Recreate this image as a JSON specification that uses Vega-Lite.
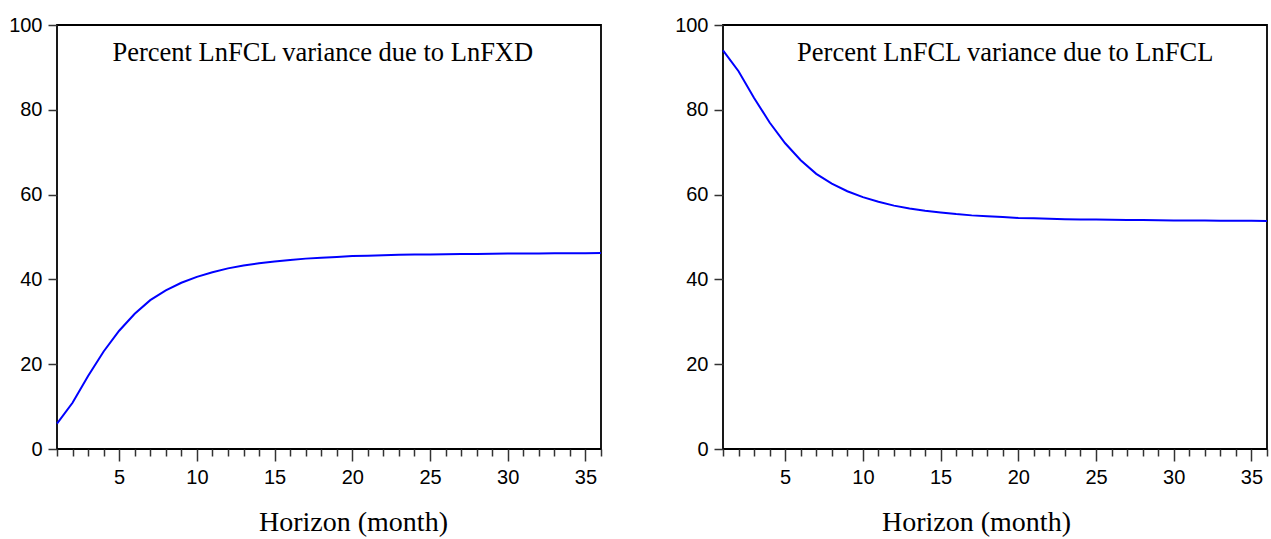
{
  "$schema": "https://vega.github.io/schema/vega-lite/v6.json",
  "padding": {"left": 7, "top": 14, "right": 0, "bottom": 0},
  "background": "white",
  "spacing": 67,
  "config": {
    "view": {"stroke": "#000", "strokeWidth": 1.8},
    "axis": {
      "labelFont": "Liberation Sans",
      "labelFontSize": 20,
      "labelColor": "#000",
      "tickColor": "#333",
      "tickWidth": 1.5,
      "domain": false,
      "grid": false,
      "titleFont": "Liberation Serif",
      "titleFontSize": 28,
      "titleFontWeight": "normal",
      "titleColor": "#000"
    }
  },
  "datasets": {
    "fxd": [
      {"h": 1, "v": 6.0}, {"h": 2, "v": 10.9}, {"h": 3, "v": 17.2}, {"h": 4, "v": 23.0},
      {"h": 5, "v": 27.9}, {"h": 6, "v": 31.9}, {"h": 7, "v": 35.1}, {"h": 8, "v": 37.4},
      {"h": 9, "v": 39.2}, {"h": 10, "v": 40.6}, {"h": 11, "v": 41.7}, {"h": 12, "v": 42.6},
      {"h": 13, "v": 43.3}, {"h": 14, "v": 43.8}, {"h": 15, "v": 44.2}, {"h": 16, "v": 44.6},
      {"h": 17, "v": 44.9}, {"h": 18, "v": 45.1}, {"h": 19, "v": 45.3}, {"h": 20, "v": 45.5},
      {"h": 21, "v": 45.6}, {"h": 22, "v": 45.7}, {"h": 23, "v": 45.8}, {"h": 24, "v": 45.85},
      {"h": 25, "v": 45.9}, {"h": 26, "v": 45.95}, {"h": 27, "v": 46.0}, {"h": 28, "v": 46.0},
      {"h": 29, "v": 46.05}, {"h": 30, "v": 46.1}, {"h": 31, "v": 46.1}, {"h": 32, "v": 46.1},
      {"h": 33, "v": 46.15}, {"h": 34, "v": 46.15}, {"h": 35, "v": 46.15}, {"h": 36, "v": 46.2}
    ],
    "fcl": [
      {"h": 1, "v": 94.0}, {"h": 2, "v": 89.1}, {"h": 3, "v": 82.8}, {"h": 4, "v": 77.0},
      {"h": 5, "v": 72.1}, {"h": 6, "v": 68.1}, {"h": 7, "v": 64.9}, {"h": 8, "v": 62.6},
      {"h": 9, "v": 60.8}, {"h": 10, "v": 59.4}, {"h": 11, "v": 58.3}, {"h": 12, "v": 57.4},
      {"h": 13, "v": 56.7}, {"h": 14, "v": 56.2}, {"h": 15, "v": 55.8}, {"h": 16, "v": 55.4},
      {"h": 17, "v": 55.1}, {"h": 18, "v": 54.9}, {"h": 19, "v": 54.7}, {"h": 20, "v": 54.5},
      {"h": 21, "v": 54.4}, {"h": 22, "v": 54.3}, {"h": 23, "v": 54.2}, {"h": 24, "v": 54.15},
      {"h": 25, "v": 54.1}, {"h": 26, "v": 54.05}, {"h": 27, "v": 54.0}, {"h": 28, "v": 54.0},
      {"h": 29, "v": 53.95}, {"h": 30, "v": 53.9}, {"h": 31, "v": 53.9}, {"h": 32, "v": 53.9},
      {"h": 33, "v": 53.85}, {"h": 34, "v": 53.85}, {"h": 35, "v": 53.85}, {"h": 36, "v": 53.8}
    ]
  },
  "hconcat": [
    {
      "width": 544,
      "height": 424,
      "layer": [
        {
          "data": {"name": "fxd"},
          "mark": {"type": "line", "color": "#0000ff", "strokeWidth": 2},
          "encoding": {
            "x": {
              "field": "h", "type": "quantitative",
              "scale": {"domain": [1, 36], "nice": false, "zero": false},
              "axis": {
                "title": "Horizon (month)",
                "values": [1,2,3,4,5,6,7,8,9,10,11,12,13,14,15,16,17,18,19,20,21,22,23,24,25,26,27,28,29,30,31,32,33,34,35,36],
                "tickCount": 100,
                "format": "d",
                "labelExpr": "datum.value % 5 === 0 ? datum.label : ''",
                "labelOverlap": false,
                "labelFlush": false,
                "tickSize": {"condition": {"test": "datum.value % 5 === 0", "value": 12}, "value": 7},
                "labelPadding": 6,
                "titleX": 296,
                "titleY": 81,
                "titleBaseline": "alphabetic",
                "titleAlign": "center"
              }
            },
            "y": {
              "field": "v", "type": "quantitative",
              "scale": {"domain": [0, 100], "nice": false},
              "axis": {
                "title": null,
                "values": [0, 20, 40, 60, 80, 100],
                "tickSize": 9,
                "labelPadding": 6,
                "minExtent": 48,
                "maxExtent": 48
              }
            }
          }
        },
        {
          "data": {"values": [{}]},
          "mark": {"type": "text", "font": "Liberation Serif", "fontSize": 26.5, "color": "#000", "align": "center", "baseline": "alphabetic"},
          "encoding": {
            "x": {"datum": 18.1, "type": "quantitative"},
            "y": {"datum": 91.4, "type": "quantitative"},
            "text": {"value": "Percent LnFCL variance due to LnFXD"}
          }
        }
      ]
    },
    {
      "width": 544,
      "height": 424,
      "layer": [
        {
          "data": {"name": "fcl"},
          "mark": {"type": "line", "color": "#0000ff", "strokeWidth": 2},
          "encoding": {
            "x": {
              "field": "h", "type": "quantitative",
              "scale": {"domain": [1, 36], "nice": false, "zero": false},
              "axis": {
                "title": "Horizon (month)",
                "values": [1,2,3,4,5,6,7,8,9,10,11,12,13,14,15,16,17,18,19,20,21,22,23,24,25,26,27,28,29,30,31,32,33,34,35,36],
                "tickCount": 100,
                "format": "d",
                "labelExpr": "datum.value % 5 === 0 ? datum.label : ''",
                "labelOverlap": false,
                "labelFlush": false,
                "tickSize": {"condition": {"test": "datum.value % 5 === 0", "value": 12}, "value": 7},
                "labelPadding": 6,
                "titleX": 253,
                "titleY": 81,
                "titleBaseline": "alphabetic",
                "titleAlign": "center"
              }
            },
            "y": {
              "field": "v", "type": "quantitative",
              "scale": {"domain": [0, 100], "nice": false},
              "axis": {
                "title": null,
                "values": [0, 20, 40, 60, 80, 100],
                "tickSize": 9,
                "labelPadding": 6,
                "minExtent": 48,
                "maxExtent": 48
              }
            }
          }
        },
        {
          "data": {"values": [{}]},
          "mark": {"type": "text", "font": "Liberation Serif", "fontSize": 26.5, "color": "#000", "align": "center", "baseline": "alphabetic"},
          "encoding": {
            "x": {"datum": 19.16, "type": "quantitative"},
            "y": {"datum": 91.4, "type": "quantitative"},
            "text": {"value": "Percent LnFCL variance due to LnFCL"}
          }
        }
      ]
    }
  ]
}
